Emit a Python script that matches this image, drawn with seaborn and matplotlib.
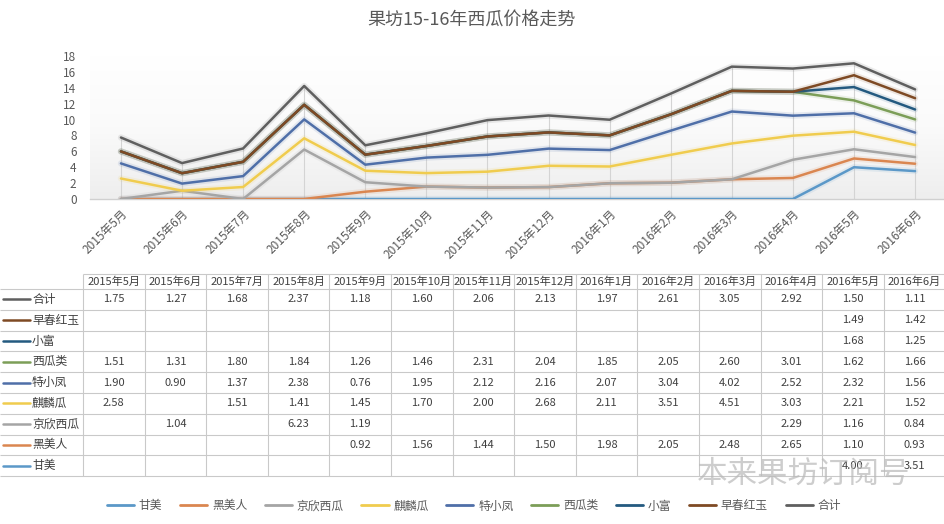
import numpy as np
import pandas as pd
import matplotlib
matplotlib.use("Agg")
import matplotlib.pyplot as plt
import matplotlib.patheffects as pe
from matplotlib.lines import Line2D
from matplotlib.colors import LinearSegmentedColormap
import seaborn as sns

# ---------------- data ----------------
months = ["2015年5月", "2015年6月", "2015年7月", "2015年8月", "2015年9月", "2015年10月",
          "2015年11月", "2015年12月", "2016年1月", "2016年2月", "2016年3月", "2016年4月",
          "2016年5月", "2016年6月"]
series_names = ["甘美", "黑美人", "京欣西瓜", "麒麟瓜", "特小凤", "西瓜类", "小富", "早春红玉", "合计"]

ganmei   = [None, None, None, None, None, None, None, None, None, None, None, None, 4.00, 3.51]
heimeiren = [None, None, None, None, 0.92, 1.56, 1.44, 1.50, 1.98, 2.05, 2.48, 2.65, 1.10, 0.93]
jingxin  = [None, 1.04, None, 6.23, 1.19, None, None, None, None, None, None, 2.29, 1.16, 0.84]
qilin    = [2.58, None, 1.51, 1.41, 1.45, 1.70, 2.00, 2.68, 2.11, 3.51, 4.51, 3.03, 2.21, 1.52]
texiaofeng = [1.90, 0.90, 1.37, 2.38, 0.76, 1.95, 2.12, 2.16, 2.07, 3.04, 4.02, 2.52, 2.32, 1.56]
xigualei = [1.51, 1.31, 1.80, 1.84, 1.26, 1.46, 2.31, 2.04, 1.85, 2.05, 2.60, 3.01, 1.62, 1.66]
xiaofu   = [None, None, None, None, None, None, None, None, None, None, None, None, 1.68, 1.25]
zaochun  = [None, None, None, None, None, None, None, None, None, None, None, None, 1.49, 1.42]
heji     = [1.75, 1.27, 1.68, 2.37, 1.18, 1.60, 2.06, 2.13, 1.97, 2.61, 3.05, 2.92, 1.50, 1.11]

colors = ["#5B98C8", "#DA8650", "#A5A5A5", "#F0CC4E", "#4F6FA8",
          "#7C9E58", "#245A80", "#7E4A24", "#5F5F5F"]

title = "果坊15-16年西瓜价格走势"
watermark = "本来果坊订阅号"

# ---------------- style ----------------
sns.set_style("white")
plt.rcParams["font.family"] = ["Noto Sans CJK SC", "DejaVu Sans"]

W, H = 944, 524
fig = plt.figure(figsize=(W / 100, H / 100), dpi=100)

values = dict(zip(series_names, [ganmei, heimeiren, jingxin, qilin, texiaofeng,
                                  xigualei, xiaofu, zaochun, heji]))
df = pd.DataFrame(values, index=months).astype(float)
cum = df.fillna(0).cumsum(axis=1)
cum["pos"] = np.arange(len(months))
long = cum.melt(id_vars="pos", var_name="品种", value_name="累计")

# ---------------- chart axes ----------------
x_left, x_right = 90.4, 945.6
y_zero, y_top = 199, 56
ax = fig.add_axes([x_left / W, 1 - y_zero / H, (x_right - x_left) / W, (y_zero - y_top) / H])

grad = LinearSegmentedColormap.from_list("g", ["#ffffff", "#fafafa", "#eeeeee"])
ax.imshow(np.linspace(0, 1, 200).reshape(-1, 1), cmap=grad, aspect="auto",
          extent=(-0.5, len(months) - 0.5, 0, 18), zorder=0)

ax.vlines(cum["pos"], 0, cum["合计"], color="#d4d4d4", lw=0.8, zorder=1)

sns.lineplot(data=long, x="pos", y="累计", hue="品种", hue_order=series_names,
             palette=colors, lw=1.8, legend=False, sort=False, ax=ax)
for i, (ln, c) in enumerate(zip(ax.lines, colors)):
    ln.set_zorder(3 + i)
    ln.set_path_effects([pe.Stroke(linewidth=4.5, foreground=c, alpha=0.12), pe.Normal()])

ax.set_xlim(-0.5, len(months) - 0.5)
ax.set_ylim(0, 18)
ax.set_yticks(np.arange(0, 19, 2))
ax.set_xticks(np.arange(len(months)))
ax.set_xticklabels(months, rotation=45, ha="right", rotation_mode="anchor")
ax.set_xticks(np.arange(-0.5, len(months), 1), minor=True)
ax.set_xlabel("")
ax.set_ylabel("")
for s in ["top", "right", "left"]:
    ax.spines[s].set_visible(False)
ax.spines["bottom"].set_color("#d0d0d0")
ax.spines["bottom"].set_linewidth(1)
ax.tick_params(axis="y", length=0, labelsize=8.5, labelcolor="#595959", pad=10)
ax.tick_params(axis="x", which="major", length=0, labelsize=8.5, labelcolor="#595959", pad=6)
ax.tick_params(axis="x", which="minor", length=4, color="#d0d0d0", width=0.8)
ax.grid(False)
ax.set_facecolor("none")

fig.text(0.5, 1 - 21 / H, title, ha="center", va="center", fontsize=13, color="#595959")

# ---------------- data table ----------------
tax = fig.add_axes([0, 0, 1, 1], zorder=-1)
tax.set_xlim(0, W)
tax.set_ylim(H, 0)
tax.axis("off")

col0, colw = 83, 61.6
head_top, head_bot, rowh = 274, 289, 20.8
n = len(months)
grid_c = "#c9c9c9"
table_rows = series_names[::-1]
bottom = head_bot + rowh * len(table_rows)

tax.hlines(head_top, col0, col0 + n * colw, color=grid_c, lw=0.8)
for k in range(len(table_rows) + 1):
    tax.hlines(head_bot + k * rowh, 0, col0 + n * colw, color=grid_c, lw=0.8)
for j in range(n + 1):
    tax.vlines(col0 + j * colw, head_top, bottom, color=grid_c, lw=0.8)

for j, m in enumerate(months):
    tax.text(col0 + (j + 0.5) * colw, (head_top + head_bot) / 2 + 0.5, m, ha="center",
             va="center", fontsize=8, color="#404040")

for r, name in enumerate(table_rows):
    yc = head_bot + (r + 0.5) * rowh
    c = colors[series_names.index(name)]
    tax.plot([3, 30], [yc, yc], color=c, lw=1.8)
    tax.text(32, yc, name, ha="left", va="center", fontsize=8.5, color="#404040")
    for j, v in enumerate(df[name]):
        if not np.isnan(v):
            tax.text(col0 + (j + 0.5) * colw, yc, f"{v:.2f}", ha="center", va="center",
                     fontsize=8, color="#404040")

# watermark
fig.text(804 / W, 1 - 474 / H, watermark, ha="center", va="center", fontsize=22,
         color="#b8b8b8", alpha=0.7, zorder=10)

# ---------------- legend ----------------
handles = [Line2D([0], [0], color=c, lw=2) for c in colors]
fig.legend(handles, series_names, ncol=len(series_names), loc="center",
           bbox_to_anchor=(474 / W, 1 - 506 / H), frameon=False, fontsize=8.5,
           handlelength=2.3, handletextpad=0.4, columnspacing=1.5, labelcolor="#595959")

fig.savefig("out.png", dpi=100)
